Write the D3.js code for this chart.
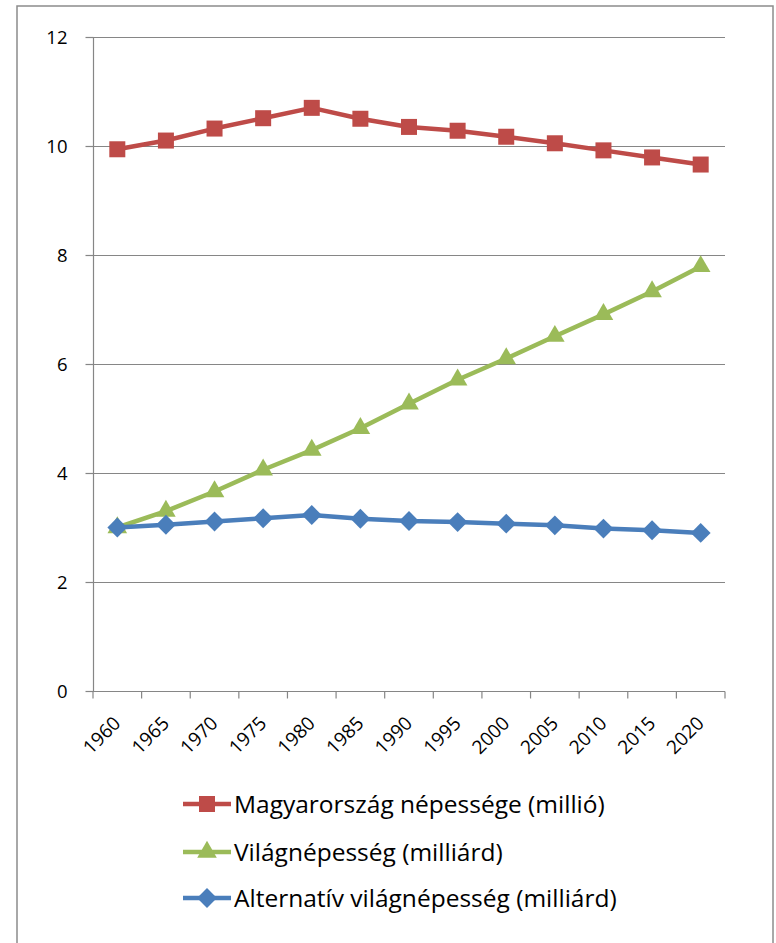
<!DOCTYPE html>
<html><head><meta charset="utf-8">
<script src="https://cdn.jsdelivr.net/npm/d3@7"></script>
<style>
body{margin:0;background:#fff;}
svg{display:block;}
text{font-family:"Open Sans","Noto Sans",sans-serif;fill:#000;}
</style></head>
<body>
<svg id="c" width="776" height="943"></svg>
<script>
const years = ["1960","1965","1970","1975","1980","1985","1990","1995","2000","2005","2010","2015","2020"];
const hungary = [9.94,10.10,10.32,10.51,10.70,10.50,10.35,10.28,10.17,10.05,9.92,9.79,9.66];
const world = [3.00,3.30,3.66,4.06,4.42,4.82,5.27,5.71,6.10,6.51,6.91,7.33,7.79];
const altWorld = [3.00,3.05,3.11,3.17,3.23,3.16,3.12,3.10,3.07,3.04,2.98,2.95,2.90];
const yTicks = [0,2,4,6,8,10,12];
const seriesNames = ["Magyarország népessége (millió)","Világnépesség (milliárd)","Alternatív világnépesség (milliárd)"];

const svg = d3.select("#c");
svg.append("rect").attr("x",17).attr("y",6).attr("width",756).attr("height",960)
  .attr("fill","#fff").attr("stroke","#8c8c8c").attr("stroke-width",1.5);

const L = 93, R = 725, T = 37, B = 691;
const x = d3.scaleBand().domain(years).range([L,R]).padding(0);
const y = d3.scaleLinear().domain([0,12]).range([B,T]);

// gridlines
svg.append("g").selectAll("line").data(yTicks.filter(d=>d>0)).join("line")
  .attr("x1",L).attr("x2",R).attr("y1",d=>y(d)+0.5).attr("y2",d=>y(d)+0.5)
  .attr("stroke","#868686").attr("stroke-width",1.2);

// y axis
const ya = svg.append("g").attr("transform",`translate(${L+0.5},0)`)
  .call(d3.axisLeft(y).tickValues(yTicks).tickSize(8).tickPadding(18).tickFormat(d3.format("d")));
ya.select(".domain").attr("stroke","#868686").attr("stroke-width",1.2).attr("d",`M0,${T}V${B}`);
ya.selectAll(".tick line").attr("stroke","#868686").attr("stroke-width",1.2);
ya.selectAll(".tick text").style("font-size","18.5px").attr("dy","0.36em").attr("fill","#111");

// x axis
const xa = svg.append("g").attr("transform",`translate(0,${B+0.5})`);
xa.append("line").attr("x1",L).attr("x2",R).attr("stroke","#868686").attr("stroke-width",1.2);
const tickPos = years.map(d=>x(d)).concat([R]);
xa.selectAll("line.tk").data(tickPos).join("line").attr("class","tk")
  .attr("x1",d=>d).attr("x2",d=>d).attr("y1",0).attr("y2",7)
  .attr("stroke","#868686").attr("stroke-width",1.2);
xa.selectAll("text").data(years).join("text")
  .attr("transform",d=>`translate(${x(d)+x.bandwidth()/2+4.5},${33}) rotate(-45)`)
  .attr("text-anchor","end").style("font-size","19px").attr("fill","#111").text(d=>d);

const colors = ["#BE4B48","#9BBB59","#4A7EBB"];
const datasets = [hungary, world, altWorld];
const line = d3.line().x((d,i)=>x(years[i])+x.bandwidth()/2).y(d=>y(d));

function marker(g, type, color, size){
  if(type===0){
    g.append("rect").attr("x",-size/2).attr("y",-size/2).attr("width",size).attr("height",size).attr("fill",color);
  } else if(type===1){
    g.append("path").attr("d",d3.symbol().type(d3.symbolTriangle).size(size*size*0.65)()).attr("fill",color);
  } else {
    const s=size*0.62;
    g.append("path").attr("d",`M0,${-s}L${s},0L0,${s}L${-s},0Z`).attr("fill",color);
  }
}

[1,2,0].forEach(k=>{
  const g = svg.append("g");
  g.append("path").datum(datasets[k]).attr("d",line).attr("fill","none")
    .attr("stroke",colors[k]).attr("stroke-width",4.5).attr("stroke-linejoin","round");
  datasets[k].forEach((v,i)=>{
    const m = g.append("g").attr("transform",`translate(${x(years[i])+x.bandwidth()/2},${y(v)})`);
    marker(m,k,colors[k],16);
  });
});

// legend
const legY = [804,852,898];
seriesNames.forEach((n,k)=>{
  const g = svg.append("g").attr("transform",`translate(0,${legY[k]})`);
  g.append("line").attr("x1",183).attr("x2",231).attr("stroke",colors[k]).attr("stroke-width",4.5);
  const m = g.append("g").attr("transform","translate(207,0)");
  marker(m,k,colors[k],16);
  g.append("text").attr("x",234).attr("dy","0.36em").style("font-size","24.5px").attr("fill","#111").text(n);
});
</script>
</body></html>
